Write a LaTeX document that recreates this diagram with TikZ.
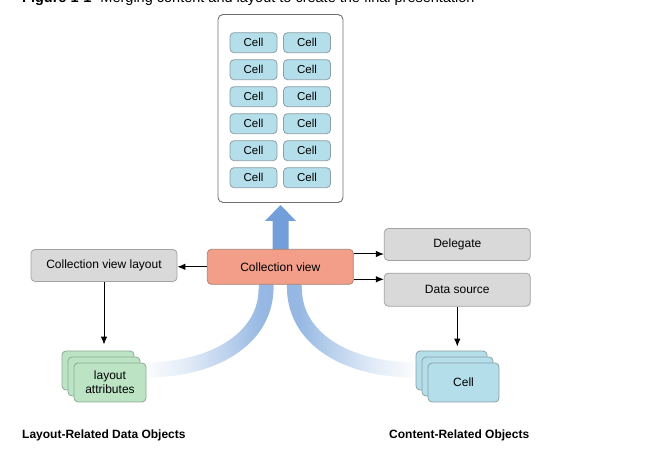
\documentclass[tikz,border=0pt]{standalone}
\usepackage{fontspec}
\setmainfont{Liberation Sans}
\usetikzlibrary{arrows.meta}
\definecolor{cellblue}{HTML}{B3DEEA}
\definecolor{cellborder}{HTML}{8C9FA6}
\definecolor{cvfill}{HTML}{F29E89}
\definecolor{cvborder}{HTML}{A88476}
\definecolor{grayfill}{HTML}{D9D9D9}
\definecolor{grayborder}{HTML}{A3A3A3}
\definecolor{greenfill}{HTML}{BDE3C5}
\definecolor{greenborder}{HTML}{8DA894}
\definecolor{winborder}{HTML}{6F6F6F}
\definecolor{shaftblue}{HTML}{729FD9}
\definecolor{bandblue}{HTML}{8DB2E0}
\pgfdeclarehorizontalshading{bandL}{100bp}{color(0bp)=(white); color(25bp)=(bandblue!4); color(42bp)=(bandblue!28); color(57bp)=(bandblue!60); color(70bp)=(bandblue!92); color(100bp)=(bandblue)}
\pgfdeclarehorizontalshading{bandR}{100bp}{color(0bp)=(bandblue); color(30bp)=(bandblue!92); color(43bp)=(bandblue!60); color(58bp)=(bandblue!28); color(75bp)=(bandblue!4); color(100bp)=(white)}
\tikzset{
  txt/.style={font=\fontsize{12}{14}\selectfont},
  graybox/.style={txt, draw=grayborder, fill=grayfill, rounded corners=4pt, line width=0.8pt, minimum width=146pt, minimum height=32pt, inner sep=0pt},
  cvbox/.style={graybox, draw=cvborder, fill=cvfill, minimum height=35pt},
  cellbox/.style={font=\fontsize{11.5}{13.5}\selectfont, draw=cellborder, fill=cellblue, rounded corners=4pt, line width=0.8pt, minimum width=47pt, minimum height=20pt, inner sep=0pt},
  greencard/.style={txt, draw=greenborder, fill=greenfill, rounded corners=4pt, line width=0.8pt, minimum width=72pt, minimum height=39pt, inner sep=0pt, align=center},
  bluecard/.style={greencard, draw=cellborder, fill=cellblue, minimum width=71pt},
  window/.style={draw=winborder, fill=white, rounded corners=5pt, line width=0.9pt, minimum width=125pt, minimum height=188pt, inner sep=0pt},
  arr/.style={-{Latex[length=8pt,width=6.5pt]}, line width=1pt, black},
  heading/.style={font=\fontsize{12}{14}\selectfont\bfseries, anchor=west, inner sep=0pt},
}
\begin{document}
\begin{tikzpicture}[x=1pt,y=-1pt]
\useasboundingbox (0,0) rectangle (657,462);
% caption (cut off at the top edge)
\node[anchor=base west, inner sep=0pt, font=\fontsize{14.5}{16}\selectfont] (cap) at (22,2.2) {\textbf{Figure 1-1}\hspace{9pt}Merging content and layout to create the final presentation};
% blue bands
\path[shading=bandL] (147,362.5) .. controls (216,361) and (258,330) .. (258.5,290) -- (262,255) -- (274,255) -- (273.5,290) .. controls (272,340) and (224,377) .. (147,377.5) -- cycle;
\path[shading=bandR] (413.5,362.5) .. controls (344.5,361) and (302.5,330) .. (302,290) -- (298.5,255) -- (286.5,255) -- (287,290) .. controls (288.5,340) and (336.5,377) .. (413.5,377.5) -- cycle;
% shaft arrow
\fill[shaftblue] (272.5,255) -- (272.5,221) -- (265,221) -- (280.5,205) -- (296,221) -- (288.5,221) -- (288.5,255) -- cycle;
% window with cells
\node[window] (win) at (280.5,108.5) {};
\foreach \r/\y in {1/42.7,2/69.7,3/96.7,4/123.7,5/150.7,6/177.7}{
  \node[cellbox] (c\r a) at (253.5,\y) {Cell};
  \node[cellbox] (c\r b) at (307,\y) {Cell};
}
% main boxes
\node[cvbox] (cv) at (280.3,266.8) {Collection view};
\node[graybox] (lay) at (104,265.5) {Collection view layout};
\node[graybox] (dl) at (457.3,244.5) {Delegate};
\node[graybox, minimum height=33pt] (ds) at (457.3,289.7) {Data source};
% layout attribute cards
\node[greencard] (la3) at (98,370.5) {};
\node[greencard] (la2) at (104,376.5) {};
\node[greencard] (la1) at (110,382.5) {layout\\attributes};
% cell cards
\node[bluecard] (cc3) at (451.5,370.5) {};
\node[bluecard] (cc2) at (457.5,376.5) {};
\node[bluecard] (cc1) at (463.5,382.5) {Cell};
% connectors
\draw[arr] (cv.west) -- (cv.west -| lay.east);
\draw[arr] ([yshift=12.8pt]cv.east) -- ([yshift=12.8pt]cv.east -| dl.west);
\draw[arr] ([yshift=-12.5pt]cv.east) -- ([yshift=-12.5pt]cv.east -| ds.west);
\draw[arr, shorten >=6pt] (lay.south) -- (lay.south |- la3.north);
\draw[arr, shorten >=4pt] (ds.south) -- (ds.south |- cc3.north);
% headings
\node[heading] (h1) at (22,435) {Layout-Related Data Objects};
\node[heading] (h2) at (389,435) {Content-Related Objects};
\end{tikzpicture}
\end{document}
